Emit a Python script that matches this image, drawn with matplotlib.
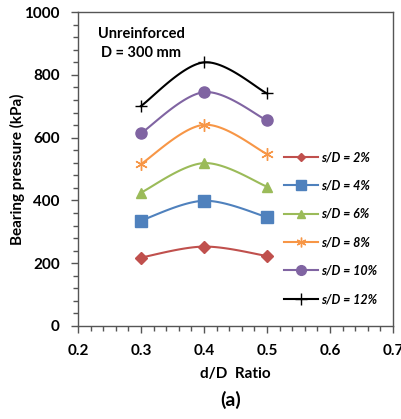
import numpy as np
import matplotlib
matplotlib.use("Agg")
import matplotlib.pyplot as plt
from matplotlib.lines import Line2D

plt.rcParams['font.family'] = ['Lato', 'DejaVu Sans']

# d/D ratio and bearing pressure (kPa) for each settlement ratio
dD = [0.3, 0.4, 0.5]
p_2 = [218, 253, 223]
p_4 = [336, 399, 347]
p_6 = [425, 519, 444]
p_8 = [516, 641, 548]
p_10 = [614, 745, 655]
p_12 = [701, 840, 741]
labels = ["s/D = 2%", "s/D = 4%", "s/D = 6%", "s/D = 8%", "s/D = 10%", "s/D = 12%"]

x_ticks = [0.2, 0.3, 0.4, 0.5, 0.6, 0.7]
x_ticklabels = ["0.2", "0.3", "0.4", "0.5", "0.6", "0.7"]
y_ticks = [0, 200, 400, 600, 800, 1000]
y_ticklabels = ["0", "200", "400", "600", "800", "1000"]

series = [p_2, p_4, p_6, p_8, p_10, p_12]
colors = ["#C0504D", "#4F81BD", "#9BBB59", "#F79646", "#8064A2", "#000000"]
markers = ["D", "s", "^", (6, 2, 0), "o", "+"]
msizes = [6, 8, 7, 9, 8, 9]
lmsizes = [4, 7, 6, 7, 7, 8]

XR, YR = 0.5, 1000.0


def smooth(x, y, n=40):
    # Catmull-Rom style smoothing, computed in normalised space
    px = np.asarray(x, float) / XR
    py = np.asarray(y, float) / YR
    pts = np.column_stack([px, py])
    out = []
    for i in range(len(pts) - 1):
        p0 = pts[max(i - 1, 0)]
        p1 = pts[i]
        p2 = pts[i + 1]
        p3 = pts[min(i + 2, len(pts) - 1)]
        c1 = p1 + (p2 - p0) / 6.0
        c2 = p2 - (p3 - p1) / 6.0
        t = np.linspace(0, 1, n)[:, None]
        b = ((1 - t) ** 3) * p1 + 3 * ((1 - t) ** 2) * t * c1 + 3 * (1 - t) * t ** 2 * c2 + t ** 3 * p2
        out.append(b if i == 0 else b[1:])
    out = np.vstack(out)
    return out[:, 0] * XR, out[:, 1] * YR


fig = plt.figure(figsize=(4.01, 4.19), dpi=100)
ax = fig.add_axes([0.1945, 0.222, 0.7855, 0.749])

for y, c, m, ms in zip(series, colors, markers, msizes):
    sx, sy = smooth(dD, y)
    ax.plot(sx, sy, color=c, lw=1.5, zorder=2)
    if m in ("+",) or isinstance(m, tuple):
        ax.plot(dD, y, ls="none", marker=m, ms=ms, color=c, mew=1.0, zorder=3)
    else:
        ax.plot(dD, y, ls="none", marker=m, ms=ms, color=c, mec=c, zorder=3)

ax.set_xlim(0.2, 0.7)
ax.set_ylim(0, 1000)
ax.set_xticks(x_ticks, x_ticklabels, fontweight="bold")
ax.set_yticks(y_ticks, y_ticklabels, fontweight="bold")
ax.set_xticks(np.arange(0.2, 0.7001, 0.02), minor=True)
ax.set_yticks(np.arange(0, 1000.1, 40), minor=True)
ax.tick_params(which="major", direction="out", length=5, width=1, color="#555555",
               labelsize=11, pad=8)
ax.tick_params(which="minor", direction="out", length=3.5, width=1, color="#555555")
for s in ax.spines.values():
    s.set_color("#555555")
    s.set_linewidth(1)

ax.set_ylabel("Bearing pressure (kPa)", fontsize=11, fontweight="bold")
ax.yaxis.set_label_coords(-0.168, 0.5)
fig.text(0.586, 0.108, "d/D  Ratio", ha="center", va="center", fontsize=11, fontweight="bold")
fig.text(0.574, 0.045, "(a)", ha="center", va="center", fontsize=14, fontweight="bold")

ax.text(0.064, 0.93, "Unreinforced", transform=ax.transAxes, fontsize=10.5,
        fontweight="bold", va="center")
ax.text(0.074, 0.869, "D = 300 mm", transform=ax.transAxes, fontsize=10.5,
        fontweight="bold", va="center")

handles = [Line2D([0], [0], color=c, lw=1.5, marker=m, ms=ms,
                  mec=c, mfc=c, mew=1.0)
           for c, m, ms in zip(colors, markers, lmsizes)]
leg = ax.legend(handles, labels, loc="center left", bbox_to_anchor=(0.655, 0.312),
                frameon=False, handlelength=2.7, handletextpad=0.25,
                borderpad=0, borderaxespad=0,
                labelspacing=1.31, prop={"size": 9, "weight": "bold", "style": "italic"})

fig.savefig("out.png", dpi=100)
